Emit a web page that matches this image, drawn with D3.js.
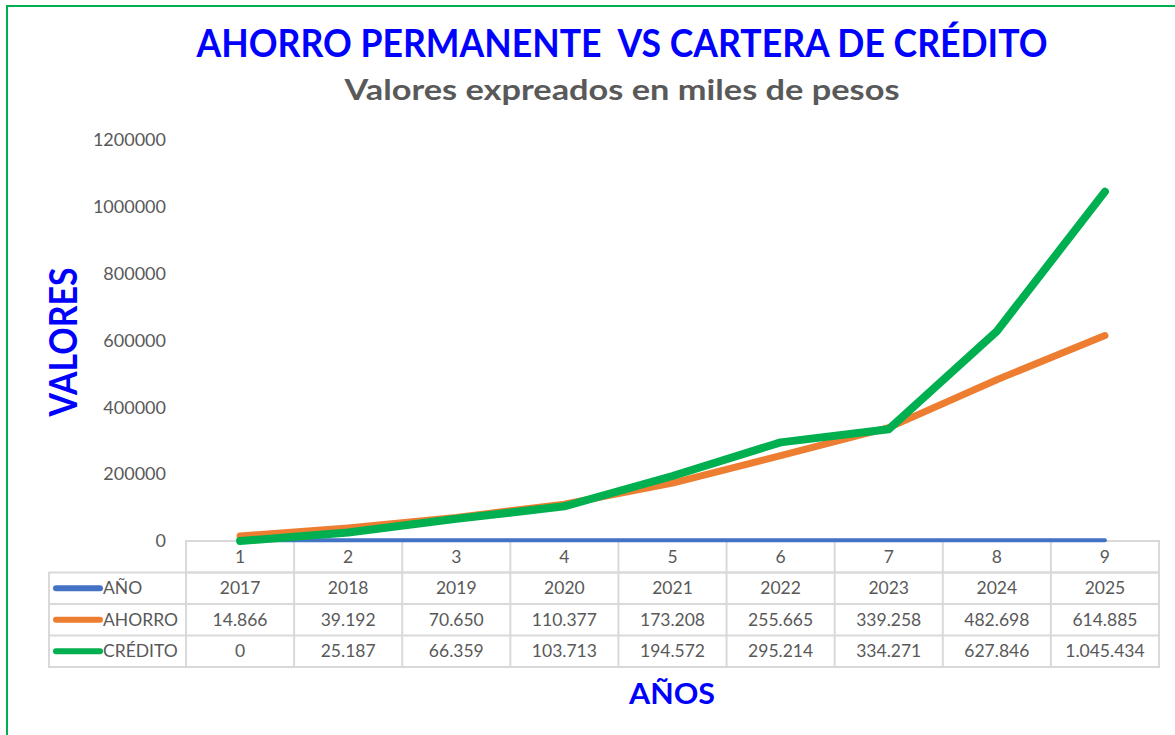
<!DOCTYPE html>
<html>
<head>
<meta charset="utf-8">
<script src="https://cdn.jsdelivr.net/npm/d3@7"></script>
<style>
    body { margin: 0; background: #ffffff; }
    svg text { font-family: Lato, "Open Sans", sans-serif; white-space: pre; }
</style>
</head>
<body>
<svg id="SVGlineChart" width="1175" height="735"></svg>
<script>
/** categories on the x axis */
const categories = [1, 2, 3, 4, 5, 6, 7, 8, 9];
/** series names, shown in the data table */
const seriesNames = ["AÑO", "AHORRO", "CRÉDITO"];
/** AÑO series (plotted as values too) */
const anoValues = [2017, 2018, 2019, 2020, 2021, 2022, 2023, 2024, 2025];
/** AHORRO series, miles de pesos */
const ahorroValues = [14866, 39192, 70650, 110377, 173208, 255665, 339258, 482698, 614885];
/** CRÉDITO series, miles de pesos */
const creditoValues = [0, 25187, 66359, 103713, 194572, 295214, 334271, 627846, 1045434];
/** y axis ticks */
const yTicks = [0, 200000, 400000, 600000, 800000, 1000000, 1200000];

const lineChart = {
    SVG: d3.select("#SVGlineChart"),
    /** plot box: left edge of first cell, right edge of last cell */
    plot: { left: 186, right: 1159, top: 140, bottom: 541 },
    /** table rows */
    rowH: 31.5,
    colors: { "AÑO": "#4472C4", "AHORRO": "#ED7D31", "CRÉDITO": "#00B050" },
    widths: { "AÑO": 4, "AHORRO": 7, "CRÉDITO": 8 },
    scaleX: null,
    scaleY: null,
    render: () => {
        const svg = lineChart.SVG;
        const p = lineChart.plot;
        const series = [
            { name: seriesNames[0], values: anoValues },
            { name: seriesNames[1], values: ahorroValues },
            { name: seriesNames[2], values: creditoValues }
        ];

        // frame
        svg.append("rect")
            .attr("x", 7).attr("y", 6)
            .attr("width", 1200).attr("height", 800)
            .style("fill", "none")
            .style("stroke", "#00B050")
            .style("stroke-width", 2);

        // titles
        svg.append("text")
            .attr("x", 622).attr("y", 57)
            .attr("text-anchor", "middle")
            .attr("textLength", 851).attr("lengthAdjust", "spacingAndGlyphs")
            .style("font-size", "38px").style("font-weight", "bold")
            .style("fill", "#0000FF")
            .text("AHORRO PERMANENTE  VS CARTERA DE CRÉDITO");
        svg.append("text")
            .attr("x", 622).attr("y", 100)
            .attr("text-anchor", "middle")
            .attr("textLength", 555).attr("lengthAdjust", "spacingAndGlyphs")
            .style("font-size", "28px").style("font-weight", "bold")
            .style("fill", "#595959")
            .text("Valores expreados en miles de pesos");

        // scales
        lineChart.scaleX = d3.scaleBand()
            .domain(categories)
            .range([p.left, p.right]);
        lineChart.scaleY = d3.scaleLinear()
            .domain([0, 1200000])
            .range([p.bottom, p.top]);
        const x = d => lineChart.scaleX(d) + lineChart.scaleX.bandwidth() / 2;

        // y axis, labels only
        const yAxis = svg.append("g")
            .attr("transform", `translate(${p.left - 20},0)`)
            .call(d3.axisLeft(lineChart.scaleY).tickValues(yTicks).tickSize(0).tickPadding(0).tickFormat(d3.format("d")));
        yAxis.select(".domain").remove();
        yAxis.selectAll("text")
            .style("font-family", "Lato, sans-serif")
            .style("font-size", "18px")
            .style("fill", "#595959");

        svg.append("text")
            .attr("transform", "translate(77,342) rotate(-90)")
            .attr("text-anchor", "middle")
            .attr("textLength", 149).attr("lengthAdjust", "spacingAndGlyphs")
            .style("font-size", "38px").style("font-weight", "bold")
            .style("fill", "#0000FF")
            .text("VALORES");

        // data table
        const rh = lineChart.rowH;
        const grid = svg.append("g")
            .style("stroke", "#D9D9D9").style("stroke-width", 2).style("fill", "none");
        // header row (category numbers)
        grid.append("rect")
            .attr("x", p.left).attr("y", p.bottom)
            .attr("width", p.right - p.left).attr("height", rh * 4);
        grid.append("rect")
            .attr("x", 49).attr("y", p.bottom + rh)
            .attr("width", p.right - 49).attr("height", rh * 3);
        [2, 3].forEach(i => {
            grid.append("line")
                .attr("x1", 49).attr("x2", p.right)
                .attr("y1", p.bottom + rh * i).attr("y2", p.bottom + rh * i);
        });
        grid.append("line")
            .attr("x1", p.left).attr("x2", p.right)
            .attr("y1", p.bottom + rh).attr("y2", p.bottom + rh);
        categories.slice(1).forEach(c => {
            grid.append("line")
                .attr("x1", lineChart.scaleX(c)).attr("x2", lineChart.scaleX(c))
                .attr("y1", p.bottom).attr("y2", p.bottom + rh * 4);
        });

        const cellText = (g, cx, cy, s) => g.append("text")
            .attr("x", cx).attr("y", cy)
            .attr("dy", "0.35em")
            .attr("text-anchor", "middle")
            .style("font-size", "17.5px").style("fill", "#595959")
            .text(s);

        const cells = svg.append("g");
        categories.forEach(c => cellText(cells, x(c), p.bottom + rh * 0.5, c));

        /** Spanish style thousands separator */
        const fmt = d3.formatLocale({ decimal: ",", thousands: ".", grouping: [3], currency: ["$", ""] }).format(",d");
        series.forEach((s, i) => {
            const cy = p.bottom + rh * (i + 1.5);
            s.values.forEach((v, j) => {
                cellText(cells, x(categories[j]), cy, i === 0 ? String(v) : fmt(v));
            });
            cells.append("line")
                .attr("x1", 56).attr("x2", 100)
                .attr("y1", cy).attr("y2", cy)
                .style("stroke", lineChart.colors[s.name])
                .style("stroke-width", 6)
                .style("stroke-linecap", "round");
            cells.append("text")
                .attr("x", 103).attr("y", cy).attr("dy", "0.35em")
                .style("font-size", "17.5px").style("fill", "#595959")
                .text(s.name);
        });

        // lines
        const line = d3.line()
            .x((d, j) => x(categories[j]))
            .y(d => lineChart.scaleY(d));
        svg.append("g").selectAll("path")
            .data(series)
            .enter()
            .append("path")
            .attr("d", d => line(d.values))
            .style("fill", "none")
            .style("stroke", d => lineChart.colors[d.name])
            .style("stroke-width", d => lineChart.widths[d.name])
            .style("stroke-linecap", "round")
            .style("stroke-linejoin", "round");

        svg.append("text")
            .attr("x", 672).attr("y", 704)
            .attr("text-anchor", "middle")
            .attr("textLength", 86).attr("lengthAdjust", "spacingAndGlyphs")
            .style("font-size", "29px").style("font-weight", "bold")
            .style("fill", "#0000FF")
            .text("AÑOS");
    }
};

lineChart.render();
</script>
</body>
</html>
